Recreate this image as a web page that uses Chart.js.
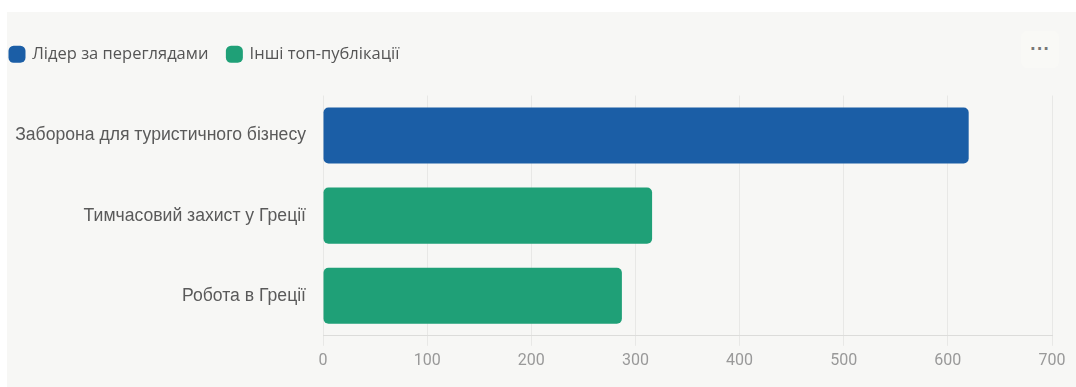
<!DOCTYPE html>
<html>
<head>
<meta charset="utf-8">
<script src="https://cdn.jsdelivr.net/npm/chart.js@4.4.1/dist/chart.umd.min.js"></script>
<style>
  html, body { margin: 0; padding: 0; background: #fff; overflow: hidden; }
  #wrap { position: relative; width: 1076px; height: 387px; overflow: hidden; }
  #panel { position: absolute; left: 7px; top: 12px; right: 0; bottom: 0; background: #f7f7f5; }
  #menu { position: absolute; left: 1021px; top: 31px; width: 38px; height: 37px; border-radius: 6px;
          background: #f9f9f6; color: #777; font: bold 15px 'DejaVu Sans', sans-serif; text-align: center; line-height: 36px; letter-spacing: 1px; }
  canvas { position: absolute; left: -9px; top: 0; }
</style>
</head>
<body>
<div id="wrap">
  <div id="panel"></div>
  <div id="menu">&middot;&middot;&middot;</div>
  <canvas id="viewsChart" width="1085" height="387"></canvas>
</div>
<script>
// top publications by views
const categories = ['Заборона для туристичного бізнесу', 'Тимчасовий захист у Греції', 'Робота в Греції'];
const leaderViews = [620, null, null];
const otherViews = [null, 316, 287];
const xTicks = [0, 100, 200, 300, 400, 500, 600, 700];

const BLUE = '#1b5ea6';
const GREEN = '#1fa077';

// extra gap under the legend
const legendSpacer = {
  id: 'legendSpacer',
  beforeInit(chart){
    const fit = chart.legend.fit;
    chart.legend.fit = function(){
      fit.bind(chart.legend)();
      this.height += 23;
    };
  }
};

const ctx = document.getElementById('viewsChart').getContext('2d');

new Chart(ctx, {
  type: 'bar',
  data: {
    labels: categories,
    datasets: [
      { label: 'Лідер за переглядами', data: leaderViews, backgroundColor: BLUE, borderRadius: 5, borderSkipped: false },
      { label: 'Інші топ-публікації', data: otherViews, backgroundColor: GREEN, borderRadius: 5, borderSkipped: false }
    ]
  },
  options: {
    indexAxis: 'y',
    responsive: false,
    animation: false,
    grouped: false,
    barPercentage: 0.7,
    categoryPercentage: 1,
    layout: { padding: { left: 0, right: 24, top: 27, bottom: 10 } },
    plugins: {
      legend: {
        position: 'top',
        align: 'start',
        labels: {
          boxWidth: 14, boxHeight: 14, usePointStyle: true, pointStyle: 'rectRounded',
          color: '#555', padding: 19,
          font: { family: "'Open Sans', sans-serif", size: 16.5 }
        }
      },
      tooltip: { enabled: false }
    },
    scales: {
      x: {
        min: 0, max: 700,
        afterBuildTicks: s => { s.ticks = xTicks.map(v => ({ value: v })); },
        grid: { color: '#e8e8e6', tickLength: 10 },
        border: { color: '#dcdcda' },
        ticks: { color: '#999', padding: 6, font: { family: 'Roboto, sans-serif', size: 16 } }
      },
      y: {
        afterFit: s => { s.width = 332; },
        grid: { display: false, drawTicks: false },
        border: { display: false },
        ticks: { color: '#5a5a5a', padding: 17, font: { family: "'Liberation Sans', Arial, sans-serif", size: 17.6 } }
      }
    }
  },
  plugins: [legendSpacer]
});
</script>
</body>
</html>
